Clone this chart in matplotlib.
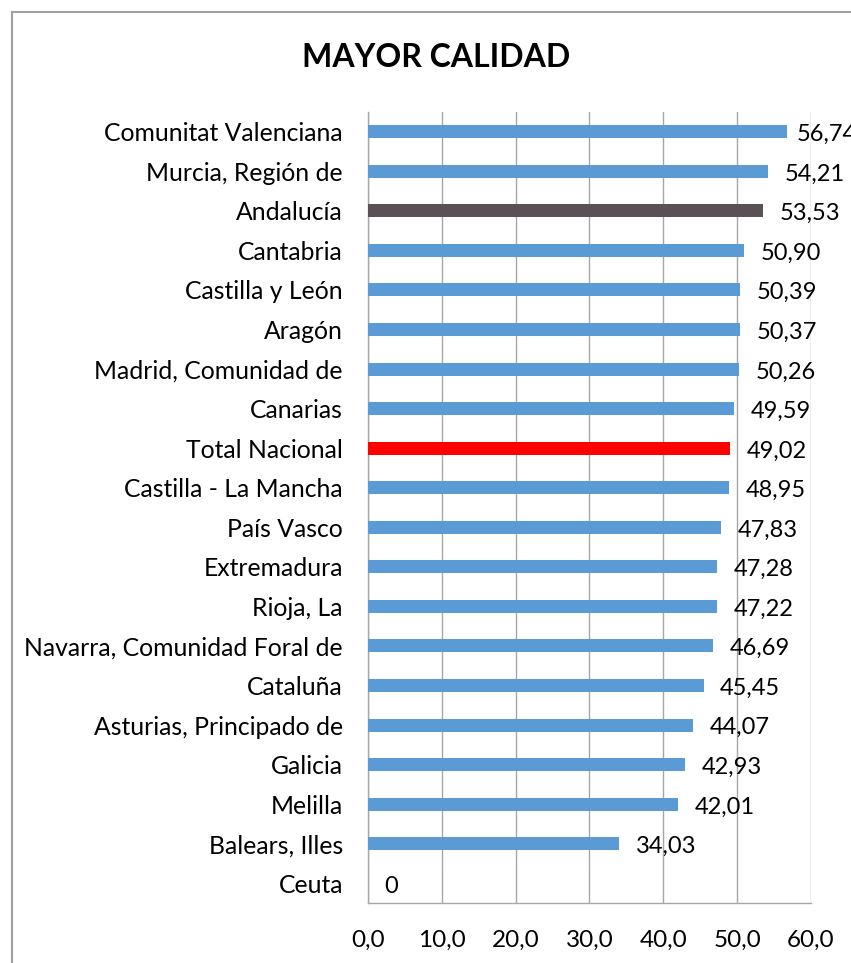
import matplotlib
matplotlib.use("Agg")
import matplotlib.pyplot as plt
from matplotlib.patches import Rectangle

regions = ["Comunitat Valenciana", "Murcia, Región de", "Andalucía", "Cantabria",
           "Castilla y León", "Aragón", "Madrid, Comunidad de", "Canarias",
           "Total Nacional", "Castilla - La Mancha", "País Vasco", "Extremadura",
           "Rioja, La", "Navarra, Comunidad Foral de", "Cataluña",
           "Asturias, Principado de", "Galicia", "Melilla", "Balears, Illes", "Ceuta"]
values = [56.74, 54.21, 53.53, 50.90, 50.39, 50.37, 50.26, 49.59, 49.02, 48.95,
          47.83, 47.28, 47.22, 46.69, 45.45, 44.07, 42.93, 42.01, 34.03, 0]
value_labels = ["56,74", "54,21", "53,53", "50,90", "50,39", "50,37", "50,26", "49,59",
                "49,02", "48,95", "47,83", "47,28", "47,22", "46,69", "45,45", "44,07",
                "42,93", "42,01", "34,03", "0"]
xticks = [0, 10, 20, 30, 40, 50, 60]
xtick_labels = ["0,0", "10,0", "20,0", "30,0", "40,0", "50,0", "60,0"]

plt.rcParams['font.family'] = ['Lato', 'DejaVu Sans']

colors = []
for r in regions:
    if r == "Total Nacional":
        colors.append("#FF0000")
    elif r == "Andalucía":
        colors.append("#5A5157")
    else:
        colors.append("#5B9BD5")

fig = plt.figure(figsize=(8.51, 9.63), dpi=100)
ax = fig.add_axes([0.4324, 0.0623, 0.5206, 0.8214])

ypos = list(range(len(regions)))[::-1]
ax.barh(ypos, values, height=0.33, color=colors, zorder=3)
for y, v, lab in zip(ypos, values, value_labels):
    # labels near the right edge get pulled in a little, like the original
    dx = 12 if v < 55 else 7
    ax.annotate(lab, (v, y), xytext=(dx, -2), textcoords="offset points",
                ha="left", va="center", fontsize=17, color="#000000",
                annotation_clip=False, zorder=4)

ax.set_xlim(0, 60)
ax.set_ylim(-0.5, len(regions) - 0.5)
ax.set_yticks(ypos)
ax.set_yticklabels(regions, fontsize=17.8)
ax.set_xticks(xticks)
ax.set_xticklabels(xtick_labels, fontsize=17.5)
ax.tick_params(axis="both", length=0)
ax.tick_params(axis="y", pad=18)
ax.tick_params(axis="x", pad=19)
ax.grid(axis="x", color="#A6A6A6", linewidth=1, zorder=0)
for s in ["top", "right"]:
    ax.spines[s].set_visible(False)
for s in ["left", "bottom"]:
    ax.spines[s].set_color("#A6A6A6")
    ax.spines[s].set_linewidth(1)

fig.text(0.512, 0.94, "MAYOR CALIDAD", ha="center", va="center",
         fontsize=23, fontweight="bold")

# chart frame (cropped at right and bottom)
fig.patches.append(Rectangle((12 / 851, -0.1), 1.2, 1.1 - 12 / 963,
                             transform=fig.transFigure, fill=False,
                             edgecolor="#A0A0A0", linewidth=1.5))

fig.savefig("out.png", dpi=100)
